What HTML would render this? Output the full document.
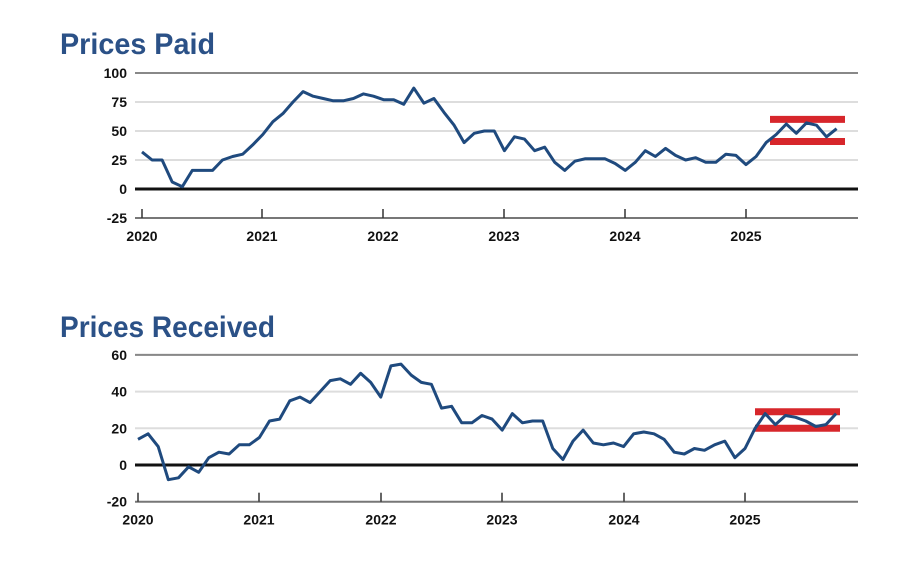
<!DOCTYPE html>
<html><head><meta charset="utf-8"><style>
html,body{margin:0;padding:0;background:#fff;}
svg{display:block;}
</style></head><body>
<svg id="s" width="900" height="581" xmlns="http://www.w3.org/2000/svg" font-family="Liberation Sans, sans-serif">
<text x="60" y="54" font-family="Liberation Sans Narrow, Liberation Sans, sans-serif" font-size="30" font-weight="bold" fill="#2b5187" textLength="155" lengthAdjust="spacingAndGlyphs">Prices Paid</text>
<text x="60" y="337" font-family="Liberation Sans Narrow, Liberation Sans, sans-serif" font-size="30" font-weight="bold" fill="#2b5187" textLength="215" lengthAdjust="spacingAndGlyphs">Prices Received</text>
<g id="g"></g>
</svg>
<script>
const NS="http://www.w3.org/2000/svg",g=document.getElementById('g');
function el(t,a,txt){const e=document.createElementNS(NS,t);for(const k in a)e.setAttribute(k,a[k]);if(txt!==undefined)e.textContent=txt;g.appendChild(e);return e;}
function chart(o){
 const Y=v=>o.y0+(v)*o.py;
 o.ticks.forEach(v=>{
  const y=Y(v);
  el('line',{x1:135,x2:858,y1:y,y2:y,stroke:v==0?'#111':(v==o.ticks[0]?'#777':'#ddd'),'stroke-width':v==0?3:2});
  el('text',{x:127,y:y+5,'text-anchor':'end','font-size':14,'font-weight':'bold',fill:'#111'},v);
 });
 const top=o.ticks[o.ticks.length-1];
 el('line',{x1:135,x2:858,y1:Y(top),y2:Y(top),stroke:'#888','stroke-width':2});
 o.years.forEach((x,i)=>{
  el('line',{x1:x,x2:x,y1:Y(o.ticks[0])-9,y2:Y(o.ticks[0]),stroke:'#333','stroke-width':1.5});
  el('text',{x:x,y:Y(o.ticks[0])+23,'text-anchor':'middle','font-size':14,'font-weight':'bold',fill:'#111'},2020+i);
 });
 const dx=(o.years[5]-o.years[0])/60;
 const pts=o.d.map((v,i)=>(o.years[0]+i*dx).toFixed(1)+','+Y(v).toFixed(1)).join(' ');
 o.bars.forEach(v=>el('line',{x1:o.bx[0],x2:o.bx[1],y1:Y(v),y2:Y(v),stroke:'#d7262b','stroke-width':7}));
 el('polyline',{points:pts,fill:'none',stroke:'#1f4a7e','stroke-width':3,'stroke-linejoin':'round'});
}
chart({y0:189,py:-1.16,ticks:[-25,0,25,50,75,100],years:[142,262,383,504,625,746],bars:[60,41],bx:[770,845],
 d:[32,25,25,6,2,16,16,16,25,28,30,38,47,58,65,75,84,80,78,76,76,78,82,80,77,77,73,87,74,78,66,55,40,48,50,50,33,45,43,33,36,23,16,24,26,26,26,22,16,23,33,28,35,29,25,27,23,23,30,29,21,28,40,47,56,48,57,55,45,52]});
chart({y0:465,py:-1.835,ticks:[-20,0,20,40,60],years:[138,259,381,502,624,745],bars:[29,20],bx:[755,840],
 d:[14,17,10,-8,-7,-1,-4,4,7,6,11,11,15,24,25,35,37,34,40,46,47,44,50,45,37,54,55,49,45,44,31,32,23,23,27,25,19,28,23,24,24,9,3,13,19,12,11,12,10,17,18,17,14,7,6,9,8,11,13,4,9,20,28,22,27,26,24,21,22,28]});
</script>
</body></html>
